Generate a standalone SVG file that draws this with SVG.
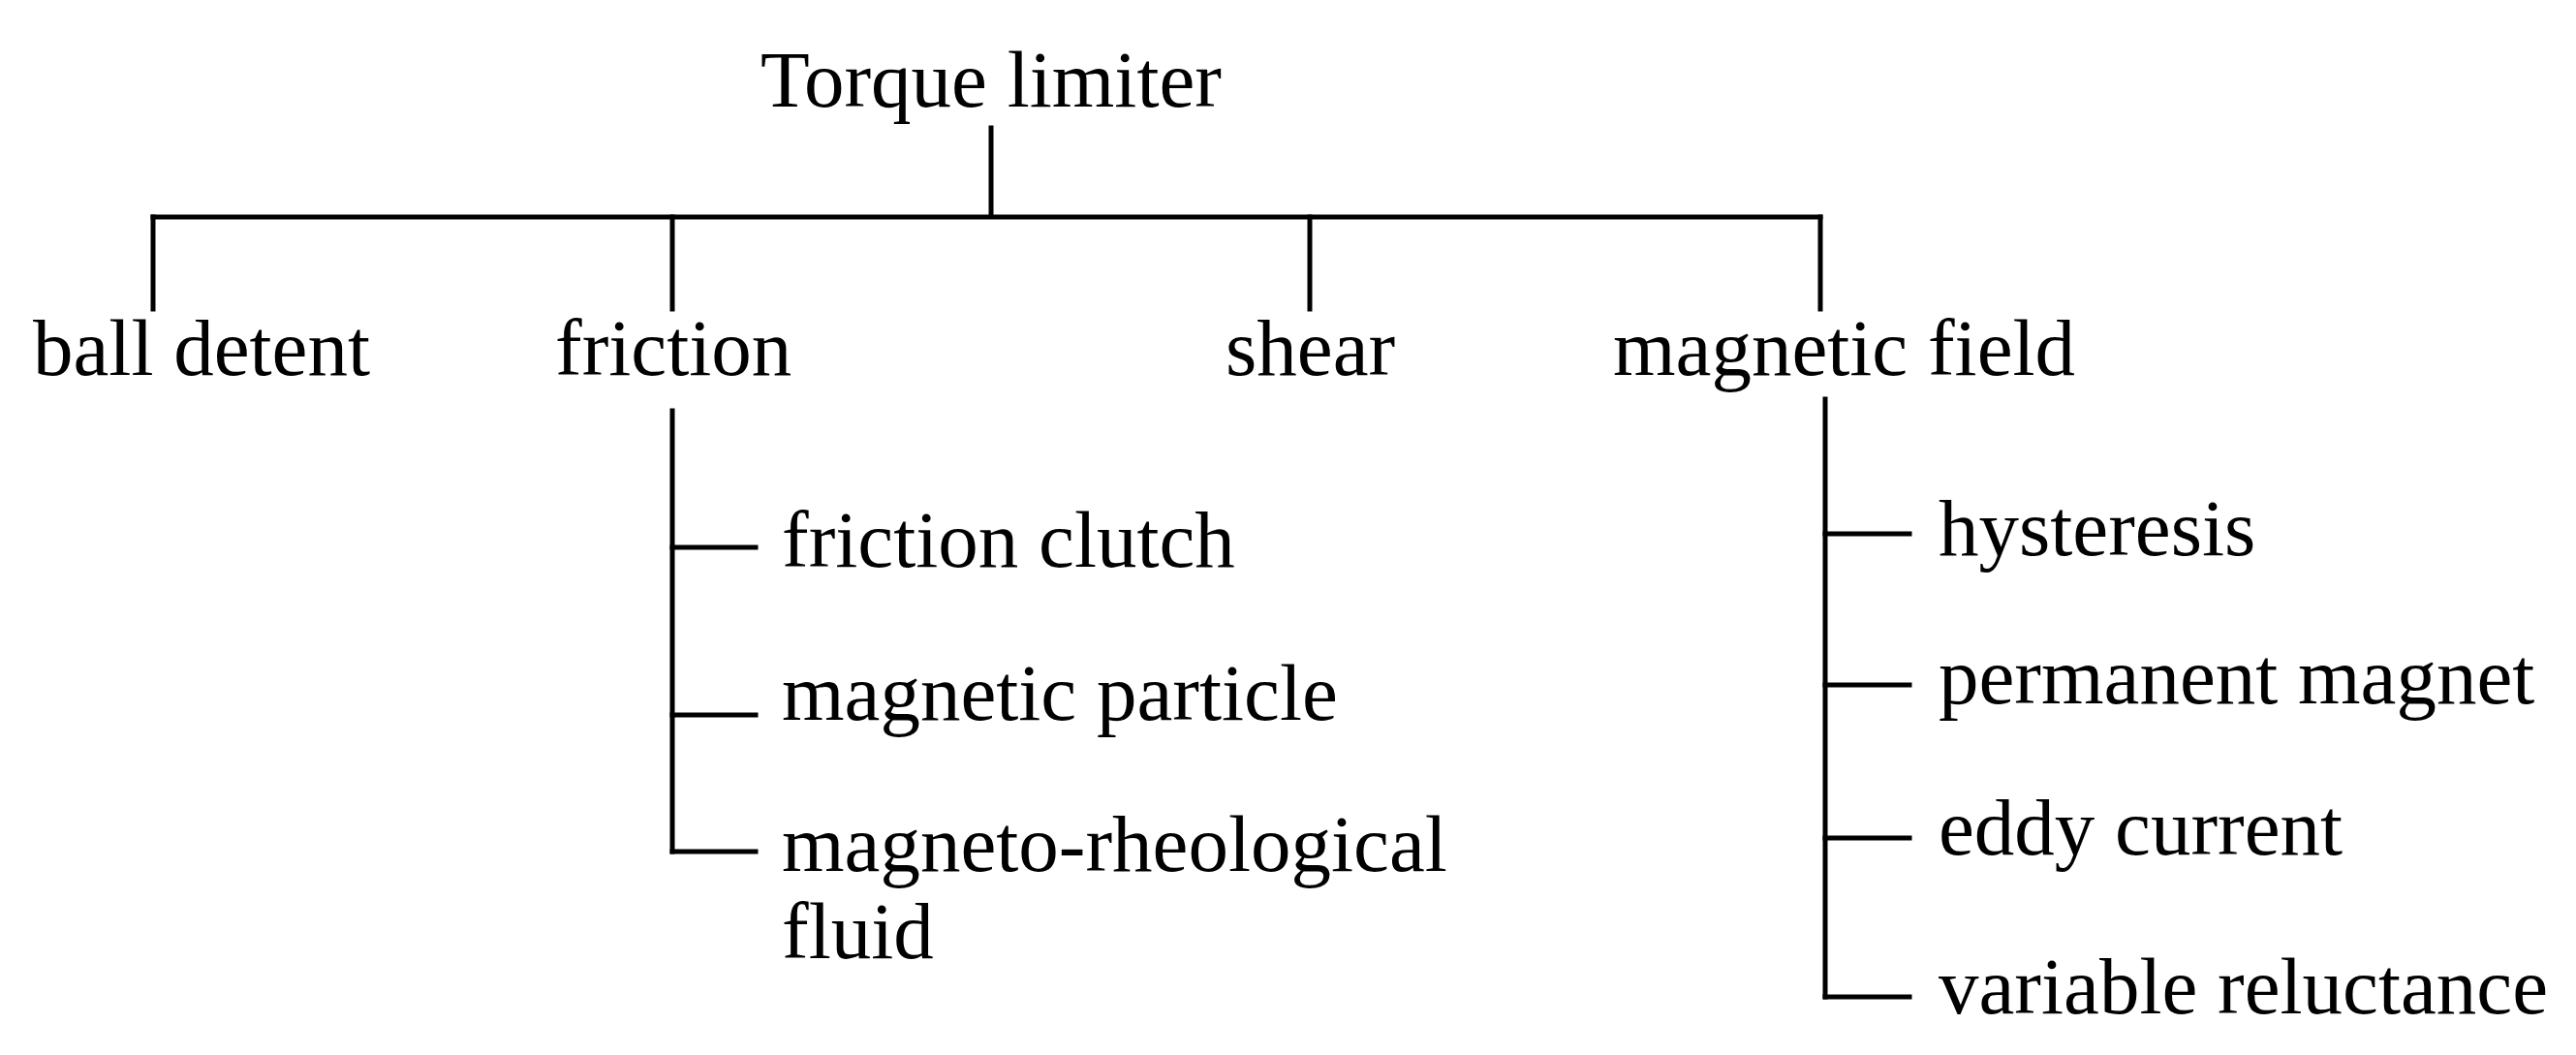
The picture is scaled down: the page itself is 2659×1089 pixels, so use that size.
<svg xmlns="http://www.w3.org/2000/svg" width="2659" height="1089" viewBox="0 0 2659 1089">
<style>
text{font-family:"Liberation Serif","Times New Roman",serif;font-size:83px;fill:#000}
.c line{stroke:#000;stroke-width:5;stroke-linecap:square}
</style>
<rect width="2659" height="1089" fill="#fff"/>
<g class="c" id="connectors">
<line x1="1023" y1="132" x2="1023" y2="222"/>
<line x1="158" y1="224" x2="1879" y2="224"/>
<line x1="158" y1="224" x2="158" y2="319"/>
<line x1="694" y1="224" x2="694" y2="319"/>
<line x1="1352" y1="224" x2="1352" y2="319"/>
<line x1="1879" y1="224" x2="1879" y2="319"/>
<line x1="694" y1="424" x2="694" y2="879"/>
<line x1="694" y1="565" x2="780" y2="565"/>
<line x1="694" y1="738" x2="780" y2="738"/>
<line x1="694" y1="879" x2="780" y2="879"/>
<line x1="1884" y1="412" x2="1884" y2="1029"/>
<line x1="1884" y1="551" x2="1971" y2="551"/>
<line x1="1884" y1="707" x2="1971" y2="707"/>
<line x1="1884" y1="865" x2="1971" y2="865"/>
<line x1="1884" y1="1029" x2="1971" y2="1029"/>
</g>
<g id="root"><text x="1023" y="110" text-anchor="middle">Torque limiter</text></g>
<g id="ball"><text x="34" y="387">ball detent</text></g>
<g id="friction"><text x="573" y="387">friction</text></g>
<g id="shear"><text x="1265" y="387">shear</text></g>
<g id="magnetic"><text x="1665" y="387">magnetic field</text></g>
<g id="fc"><text x="807" y="585">friction clutch</text></g>
<g id="mp"><text x="807" y="743">magnetic particle</text></g>
<g id="mr"><text x="807" y="899">magneto-rheological</text><text x="807" y="989">fluid</text></g>
<g id="hy"><text x="2001" y="573">hysteresis</text></g>
<g id="pm"><text x="2001" y="726">permanent magnet</text></g>
<g id="ec"><text x="2001" y="882">eddy current</text></g>
<g id="vr"><text x="2001" y="1046">variable reluctance</text></g>
</svg>
